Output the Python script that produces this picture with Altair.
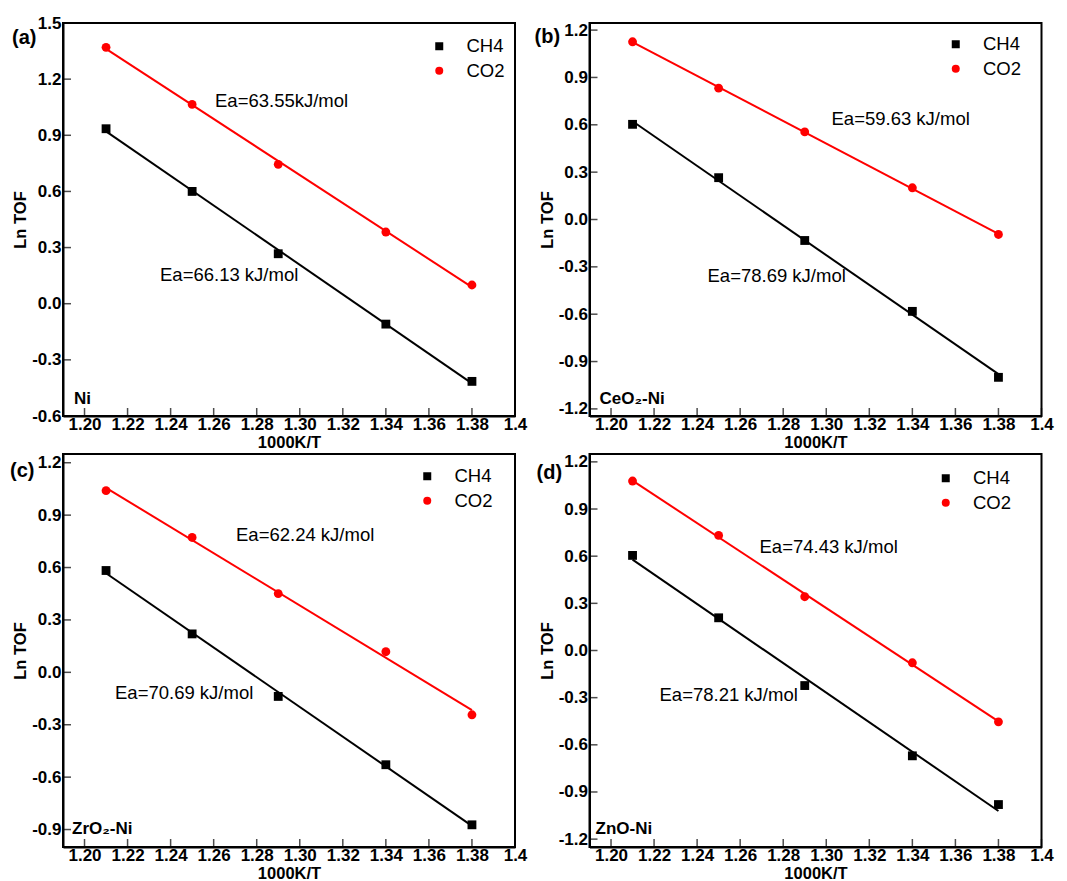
import altair as alt
import pandas as pd

FONT = "Liberation Sans"

# ---- data ----
x_vals = [1.21, 1.25, 1.29, 1.34, 1.38]
series_names = ["CH4", "CO2"]

ch4_a = [0.935, 0.600, 0.267, -0.109, -0.415]
co2_a = [1.370, 1.065, 0.745, 0.383, 0.100]
ch4_b = [0.603, 0.265, -0.133, -0.582, -1.000]
co2_b = [1.126, 0.832, 0.555, 0.201, -0.095]
ch4_c = [0.583, 0.220, -0.138, -0.529, -0.873]
co2_c = [1.040, 0.772, 0.451, 0.118, -0.243]
ch4_d = [0.605, 0.208, -0.223, -0.670, -0.980]
co2_d = [1.078, 0.732, 0.342, -0.078, -0.454]

x_ticks = [1.20, 1.22, 1.24, 1.26, 1.28, 1.30, 1.32, 1.34, 1.36, 1.38, 1.40]
y_ticks_a = [-0.6, -0.3, 0.0, 0.3, 0.6, 0.9, 1.2, 1.5]
y_ticks_b = [-1.2, -0.9, -0.6, -0.3, 0.0, 0.3, 0.6, 0.9, 1.2]
y_ticks_c = [-0.9, -0.6, -0.3, 0.0, 0.3, 0.6, 0.9, 1.2]
y_ticks_d = [-1.2, -0.9, -0.6, -0.3, 0.0, 0.3, 0.6, 0.9, 1.2]

panel_letters = ["(a)", "(b)", "(c)", "(d)"]
catalysts = ["Ni", "CeO\u2082-Ni", "ZrO\u2082-Ni", "ZnO-Ni"]
ea_co2 = ["Ea=63.55kJ/mol", "Ea=59.63 kJ/mol", "Ea=62.24 kJ/mol", "Ea=74.43 kJ/mol"]
ea_ch4 = ["Ea=66.13 kJ/mol", "Ea=78.69 kJ/mol", "Ea=70.69 kJ/mol", "Ea=78.21 kJ/mol"]

W, H = 452, 393

color_scale = alt.Scale(domain=series_names, range=["#000000", "#ff0000"])
shape_scale = alt.Scale(domain=series_names, range=["square", "circle"])


def txt(s, px, py, size, weight):
    return alt.Chart(pd.DataFrame({"t": [s]})).mark_text(
        align="left", baseline="middle", fontSize=size, fontWeight=weight,
        font=FONT, color="black"
    ).encode(text="t:N", x=alt.value(px), y=alt.value(py))


def panel(ch4, co2, y_domain, y_ticks, i, legend_xy, ea_pos):
    df = pd.DataFrame({
        "x": x_vals * 2,
        "y": ch4 + co2,
        "series": ["CH4"] * len(ch4) + ["CO2"] * len(co2),
    })
    xs = alt.Scale(domain=[1.19, 1.40], nice=False, zero=False)
    ys = alt.Scale(domain=y_domain, nice=False, zero=False)
    x_axis = alt.Axis(
        values=x_ticks, title="1000K/T", ticks=False, grid=False,
        labelExpr="datum.value >= 1.399 ? '1.4' : format(datum.value, '.2f')",
        labelPadding=0, titlePadding=2, labelFlush=False, labelOverlap=False,
    )
    y_axis = alt.Axis(
        values=y_ticks, title="Ln TOF", ticks=False, grid=False,
        labelExpr="replace(format(datum.value, '.1f'), '\u2212', '-')",
        labelPadding=2, titlePadding=3, labelFlush=False, labelOverlap=False,
    )
    leg = alt.Legend(
        orient="none", legendX=legend_xy[0], legendY=legend_xy[1], title=None,
        labelFont=FONT, labelFontSize=18.5, labelColor="black",
        symbolSize=64, symbolStrokeWidth=0, padding=0, rowPadding=5.5,
        labelOffset=18,
    )
    base = alt.Chart(df)
    fit = base.transform_regression("x", "y", groupby=["series"]).mark_line(
        strokeWidth=2
    ).encode(
        x=alt.X("x:Q", scale=xs, axis=x_axis),
        y=alt.Y("y:Q", scale=ys, axis=y_axis),
        detail="series:N",
        color=alt.condition("datum.series == 'CO2'", alt.value("#ff0000"), alt.value("#000000")),
    )
    pts = base.mark_point(filled=True, size=78, opacity=1).encode(
        x=alt.X("x:Q", scale=xs, axis=x_axis),
        y=alt.Y("y:Q", scale=ys, axis=y_axis),
        color=alt.Color("series:N", scale=color_scale, legend=leg),
        shape=alt.Shape("series:N", scale=shape_scale, legend=leg),
    )
    xt = alt.Chart(pd.DataFrame({"x": x_ticks})).mark_tick(
        color="black", thickness=1.5, size=8, orient="vertical"
    ).encode(x=alt.X("x:Q", scale=xs, axis=x_axis), y=alt.value(H - 4))
    yt = alt.Chart(pd.DataFrame({"y": y_ticks})).mark_tick(
        color="black", thickness=1.5, size=8, orient="horizontal"
    ).encode(y=alt.Y("y:Q", scale=ys, axis=y_axis), x=alt.value(4))
    texts = [
        txt(ea_co2[i], ea_pos[0][0], ea_pos[0][1], 18.5, "normal"),
        txt(ea_ch4[i], ea_pos[1][0], ea_pos[1][1], 18.5, "normal"),
        txt(panel_letters[i], ea_pos[2][0], ea_pos[2][1], 20, "bold"),
        txt(catalysts[i], ea_pos[3][0], ea_pos[3][1], 17, "bold"),
    ]
    return alt.layer(fit, pts, xt, yt, *texts).properties(width=W, height=H)


pa = panel(ch4_a, co2_a, [-0.6, 1.5], y_ticks_a, 0, (367, 14),
           [(152, 78), (97, 252), (-51, 15), (11, 376)])
pb = panel(ch4_b, co2_b, [-1.245, 1.245], y_ticks_b, 1, (357, 12),
           [(242, 96), (118, 253), (-55, 14), (10, 376)])
pc = panel(ch4_c, co2_c, [-1.0, 1.25], y_ticks_c, 2, (355, 13),
           [(173, 81), (52, 239), (-53, 17), (9, 375)])
pd_ = panel(ch4_d, co2_d, [-1.25, 1.25], y_ticks_d, 3, (347, 15),
            [(170, 93), (70, 241), (-53, 19), (6, 375)])

chart = alt.concat(
    pa, pb, pc, pd_, columns=2, spacing={"row": 38, "column": 74.5}
).resolve_scale(
    color="independent", shape="independent"
).resolve_legend(
    color="independent", shape="independent"
).properties(
    padding={"left": 9, "top": 13, "right": 5, "bottom": 0},
    background="white",
).configure_view(
    stroke="black", strokeWidth=2
).configure_axis(
    domainColor="black", domainWidth=2,
    labelFont=FONT, labelFontSize=17, labelFontWeight="bold", labelColor="black",
    titleFont=FONT, titleFontSize=16.5, titleFontWeight="bold", titleColor="black",
)
chart = chart.properties(bounds="flush")

chart.save("out.html", embed_options={"renderer": "svg", "actions": False})
